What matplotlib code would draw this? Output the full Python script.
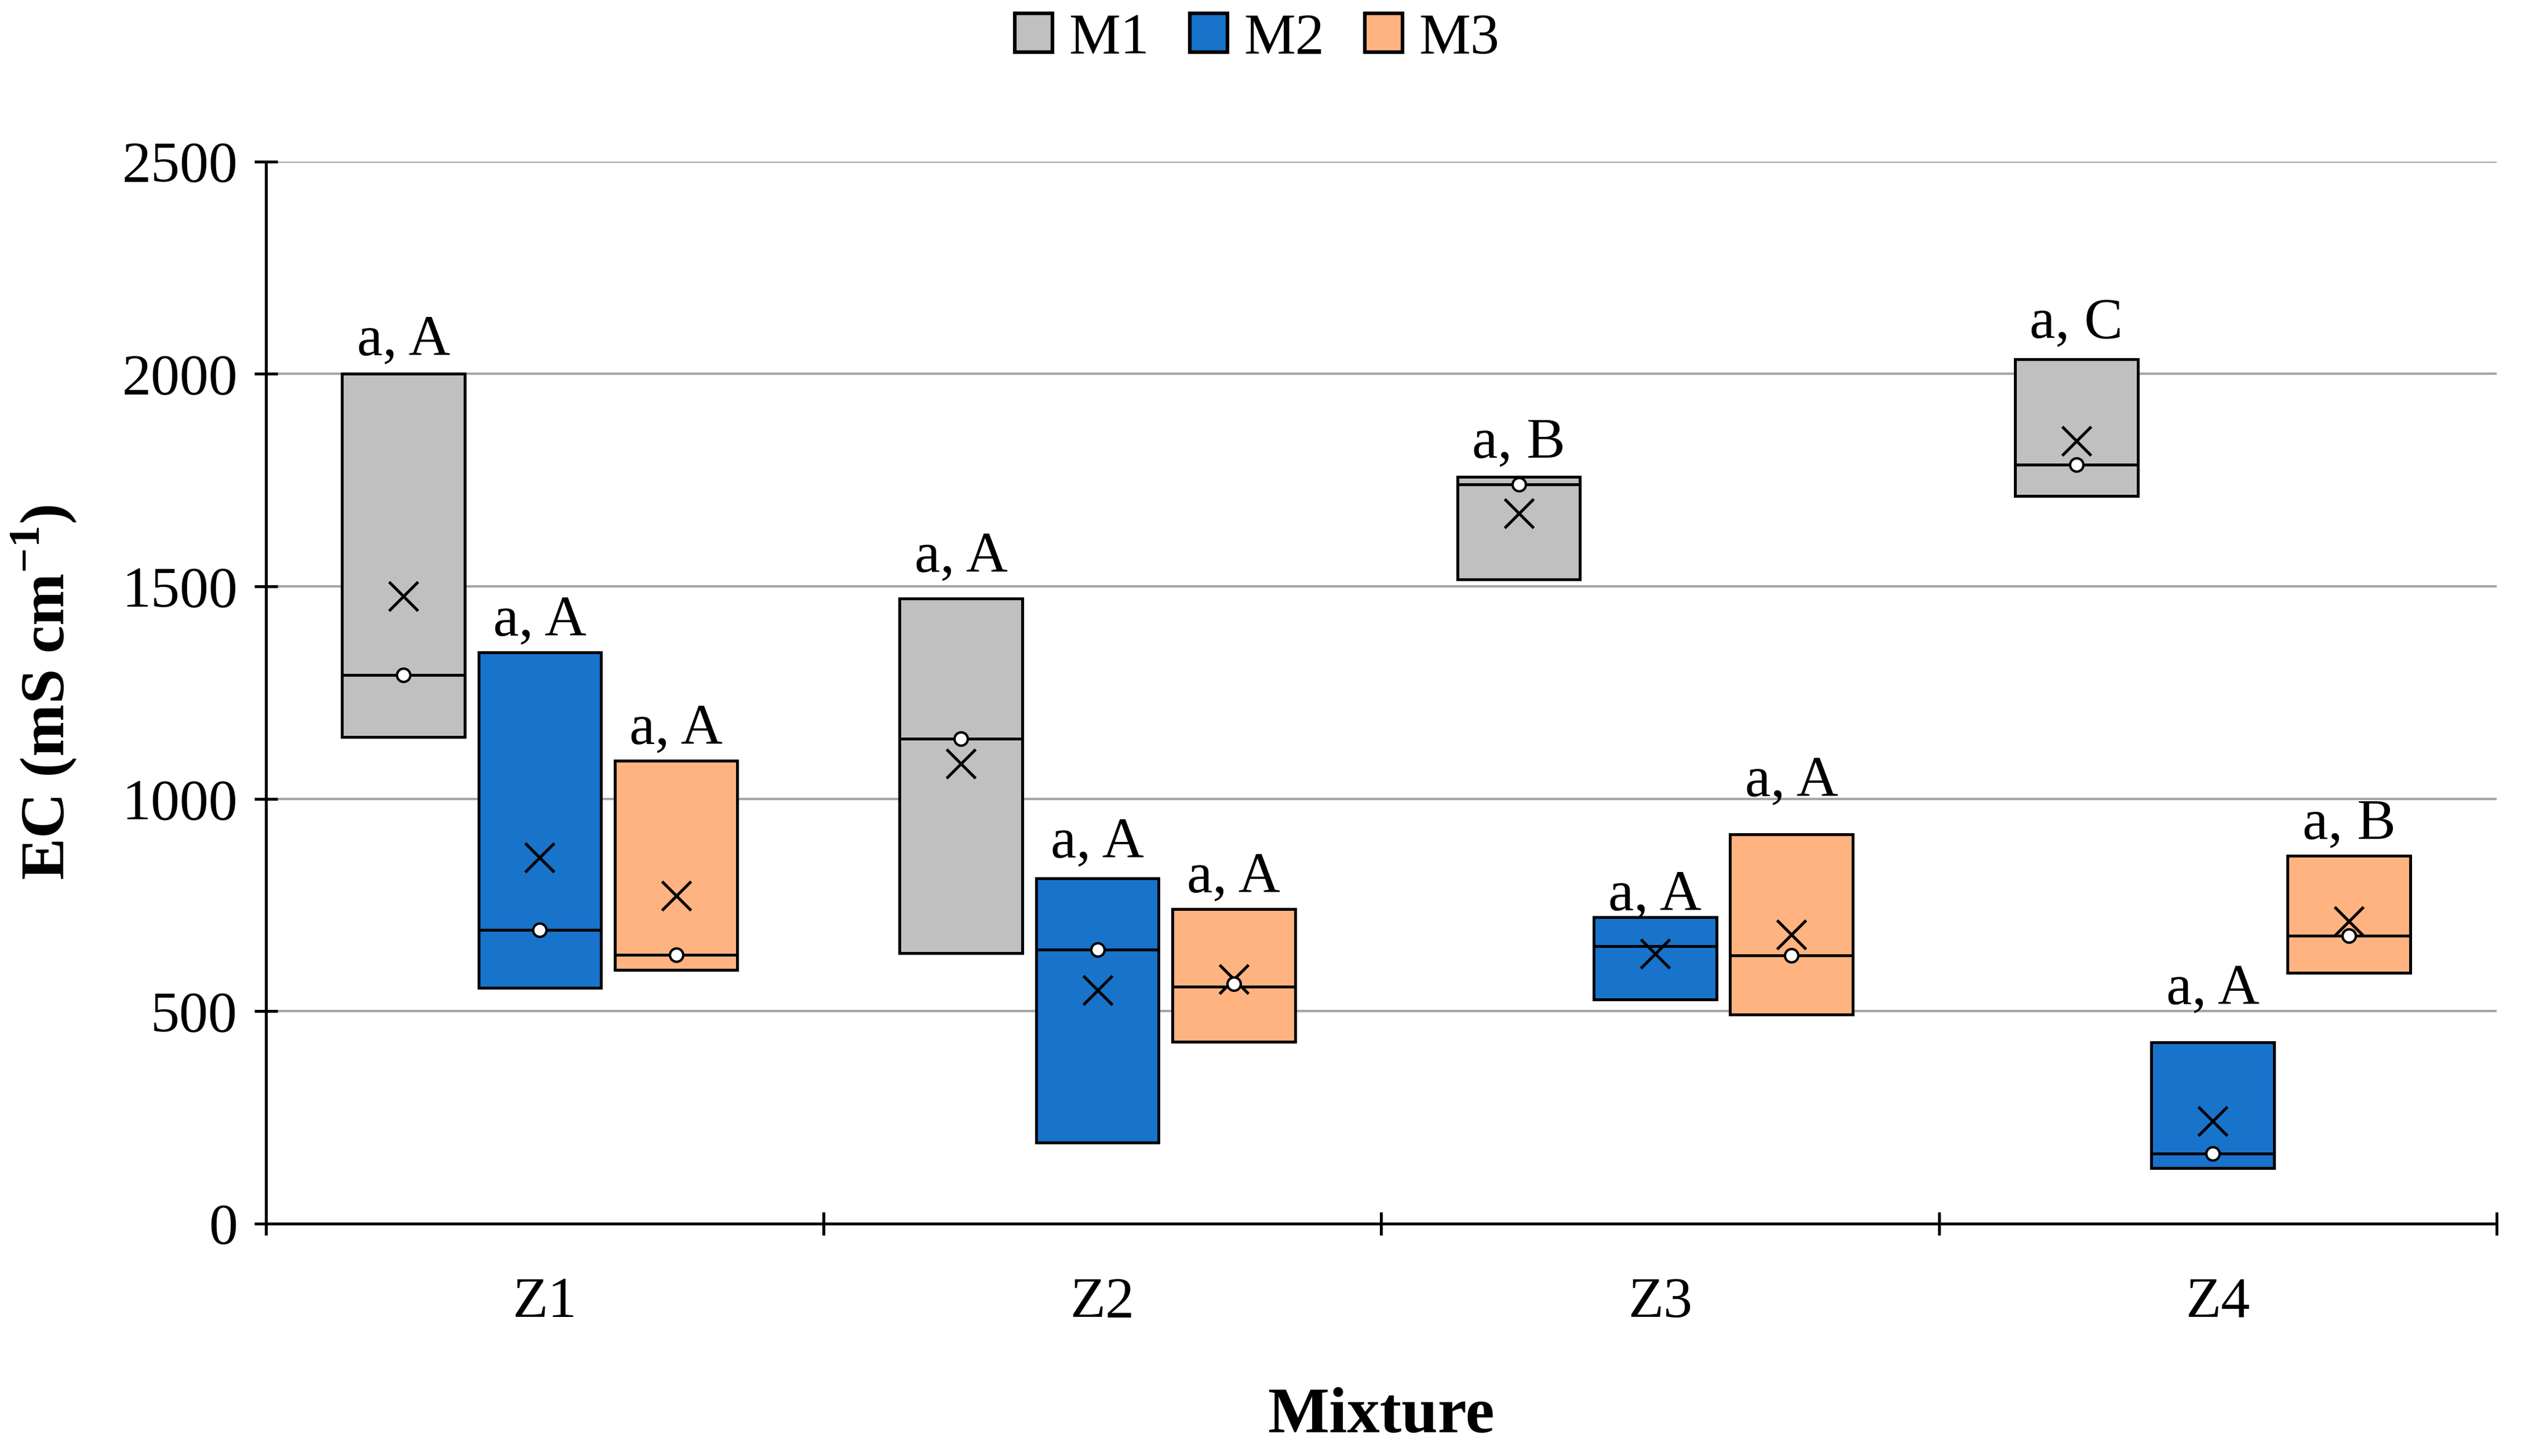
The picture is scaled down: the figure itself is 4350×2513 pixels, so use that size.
import numpy as np
import matplotlib
matplotlib.use("Agg")
from matplotlib import pyplot as plt
from matplotlib.patches import Patch

plt.rcParams['font.family'] = ['Liberation Serif', 'DejaVu Serif']
plt.rcParams['mathtext.fontset'] = 'custom'
plt.rcParams['mathtext.rm'] = 'Liberation Serif'
plt.rcParams['mathtext.bf'] = 'Liberation Serif:bold'

# data (EC, mS cm-1)
mixtures = ['Z1', 'Z2', 'Z3', 'Z4']
series = ['M1', 'M2', 'M3']
colors = ['#c0c0c0', '#1873ca', '#ffb381']

q1 = [[1145, 637, 1517, 1713],
      [555, 191, 527, 131],
      [597, 428, 492, 591]]
q3 = [[2000, 1472, 1758, 2034],
      [1345, 812, 721, 427],
      [1090, 741, 916, 866]]
median = [[1291, 1141, 1740, 1786],
          [691, 645, 653, 165],
          [633, 558, 631, 678]]
mean = [[1477, 1082, 1672, 1842],
        [862, 550, 635, 241],
        [772, 575, 680, 712]]
points = [[1291, 1141, 1740, 1786],
          [691, 645, np.nan, 165],
          [633, 565, 631, 678]]
letters = [['a, A', 'a, A', 'a, B', 'a, C'],
           ['a, A', 'a, A', 'a, A', 'a, A'],
           ['a, A', 'a, A', 'a, A', 'a, B']]
# gap (points) between box top and its letters
label_gap = [[8, 11, 8, 9],
             [7, 9, 3, 16],
             [7, 7, 16, 7]]

fig = plt.figure(figsize=(14.5, 8.3767), dpi=300)
ax = fig.add_axes([0.1055, 0.1596, 0.8848, 0.7295])

offsets = [-0.2445, 0.0, 0.2445]
shift = -0.009  # boxes sit a touch left of the category centre
width = 0.22
xc = np.arange(1, len(mixtures) + 1)

ax.set_axisbelow(True)
ax.yaxis.grid(True, color='#a6a6a6', lw=1.0)

for i in range(len(series)):
    x = xc + offsets[i] + shift
    lo = np.array(q1[i])
    hi = np.array(q3[i])
    ax.bar(x, hi - lo, bottom=lo, width=width, color=colors[i],
           edgecolor='black', linewidth=1.2, zorder=2)
    ax.hlines(median[i], x - width / 2, x + width / 2, color='black', lw=1.2, zorder=3)
    ax.plot(x, mean[i], linestyle='none', marker='x', markersize=12,
            markeredgewidth=1.2, color='black', zorder=4)
    ax.plot(x, points[i], linestyle='none', marker='o', markersize=5.5,
            markerfacecolor='white', markeredgecolor='black', markeredgewidth=1.0, zorder=5)
    for j in range(len(mixtures)):
        ax.annotate(letters[i][j], (x[j], q3[i][j]), xytext=(0, label_gap[i][j]),
                    textcoords='offset points', ha='center', va='baseline', fontsize=24)

ax.set_xlim(0.5, len(mixtures) + 0.5)
ax.set_ylim(0, 2500)
ax.set_yticks(np.arange(0, 2501, 500))
ax.set_xticks(np.arange(0.5, len(mixtures) + 1, 1.0))
ax.set_xticklabels([])
ax.set_xticks(xc, minor=True)
ax.set_xticklabels(mixtures, minor=True)
ax.tick_params(axis='x', which='major', direction='inout', length=9.5, width=1.2)
ax.tick_params(axis='x', which='minor', length=0, pad=22, labelsize=24)
ax.tick_params(axis='y', direction='inout', length=9.5, width=1.2, pad=7, labelsize=24)

for s in ['top', 'right']:
    ax.spines[s].set_visible(False)
ax.spines['left'].set_linewidth(1.2)
ax.spines['bottom'].set_linewidth(1.2)

ax.set_ylabel(r'EC (mS cm$^{\mathbf{-1}}$)', fontsize=26, fontweight='bold', labelpad=18)
ax.set_xlabel('Mixture', fontsize=27, fontweight='bold', labelpad=24)

handles = [Patch(facecolor=c, edgecolor='black', linewidth=1.5) for c in colors]
fig.legend(handles, series, loc='center', bbox_to_anchor=(0.4986, 0.973), ncol=3,
           frameon=False, fontsize=24, handlelength=0.65, handleheight=0.65,
           handletextpad=0.28, columnspacing=0.7, borderaxespad=0)

fig.savefig('out.png', dpi=300)
